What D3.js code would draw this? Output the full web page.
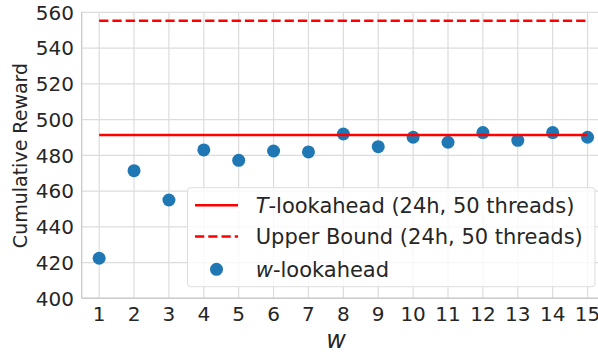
<!DOCTYPE html>
<html>
<head>
<meta charset="utf-8">
<script src="https://cdn.jsdelivr.net/npm/d3@7"></script>
<style>
  body { margin: 0; background: #fff; }
  svg { display: block; font-family: "DejaVu Sans", sans-serif; }
</style>
</head>
<body>
<div id="content"></div>
<script>
var width = 598, height = 354;

var wValues = [1, 2, 3, 4, 5, 6, 7, 8, 9, 10, 11, 12, 13, 14, 15];
var wReward = [422.4, 471.4, 455.0, 483.0, 477.2, 482.4, 481.9, 491.9, 484.8, 490.1, 487.3, 492.7, 488.4, 492.7, 490.1];
var tLookahead = 491.4;
var upperBound = 555.3;
var yTicks = [400, 420, 440, 460, 480, 500, 520, 540, 560];

var svg = d3.select('div#content').append('svg')
  .attr('width', width)
  .attr('height', height);

var x = d3.scaleLinear().domain([0.5, 15.5]).range([81.7, 605]);
var y = d3.scaleLinear().domain([400, 560]).range([298.3, 12.3]);

var grid = svg.append('g');
// vertical grid
grid.selectAll('line.vx')
  .data(wValues)
  .enter().append('line')
  .attr('x1', d => x(d)).attr('x2', d => x(d))
  .attr('y1', y(400)).attr('y2', y(560))
  .attr('stroke', '#dcdcdc').attr('stroke-width', 1.2);
// horizontal grid
grid.selectAll('line.hy')
  .data(yTicks)
  .enter().append('line')
  .attr('x1', x(0.5)).attr('x2', width)
  .attr('y1', d => y(d)).attr('y2', d => y(d))
  .attr('stroke', '#dcdcdc').attr('stroke-width', 1.2);

// spines
svg.append('line')
  .attr('x1', x(0.5)).attr('x2', x(0.5))
  .attr('y1', y(400)).attr('y2', y(560))
  .attr('stroke', '#cccccc').attr('stroke-width', 1.4);
svg.append('line')
  .attr('x1', x(0.5)).attr('x2', width)
  .attr('y1', y(400)).attr('y2', y(400))
  .attr('stroke', '#cccccc').attr('stroke-width', 1.4);

// tick labels
svg.append('g').selectAll('text')
  .data(yTicks)
  .enter().append('text')
  .attr('x', 74)
  .attr('y', d => y(d))
  .attr('dy', '0.36em')
  .attr('text-anchor', 'end')
  .attr('font-size', 20)
  .attr('fill', '#262626')
  .text(d => d);

svg.append('g').selectAll('text')
  .data(wValues)
  .enter().append('text')
  .attr('x', d => x(d))
  .attr('y', 321)
  .attr('text-anchor', 'middle')
  .attr('font-size', 20)
  .attr('fill', '#262626')
  .text(d => d);

// axis labels
svg.append('text')
  .attr('transform', 'translate(27,155.5) rotate(-90)')
  .attr('text-anchor', 'middle')
  .attr('font-size', 19)
  .attr('fill', '#262626')
  .text('Cumulative Reward');

svg.append('text')
  .attr('x', 336)
  .attr('y', 348)
  .attr('text-anchor', 'middle')
  .attr('font-size', 24)
  .attr('font-style', 'italic')
  .attr('fill', '#262626')
  .text('w');

// points
svg.append('g').selectAll('circle')
  .data(wValues)
  .enter().append('circle')
  .attr('cx', d => x(d))
  .attr('cy', (d, i) => y(wReward[i]))
  .attr('r', 6.5)
  .attr('fill', '#1f77b4');

// reference lines (drawn over the points)
svg.append('line')
  .attr('x1', x(1)).attr('x2', x(15))
  .attr('y1', y(tLookahead)).attr('y2', y(tLookahead))
  .attr('stroke', '#ff0000').attr('stroke-width', 2.5);
svg.append('line')
  .attr('x1', x(1)).attr('x2', x(15))
  .attr('y1', y(upperBound)).attr('y2', y(upperBound))
  .attr('stroke', '#ff0000').attr('stroke-width', 2.5)
  .attr('stroke-dasharray', '9.25,4');

// legend
var lg = svg.append('g');
lg.append('rect')
  .attr('x', 187.5).attr('y', 187.7)
  .attr('width', 407.5).attr('height', 99)
  .attr('rx', 3)
  .attr('fill', 'rgba(255,255,255,0.8)')
  .attr('stroke', '#dddddd').attr('stroke-width', 1);

var legendItems = [
  {type: 'solid', pre: 'T', rest: '-lookahead (24h, 50 threads)'},
  {type: 'dash', pre: '', rest: 'Upper Bound (24h, 50 threads)'},
  {type: 'dot', pre: 'w', rest: '-lookahead'}
];
var rowY = [205.3, 236.5, 269.3];
legendItems.forEach(function(item, i){
  var yy = rowY[i];
  if(item.type === 'dot'){
    lg.append('circle').attr('cx', 216.5).attr('cy', yy).attr('r', 6.5).attr('fill', '#1f77b4');
  }else{
    lg.append('line')
      .attr('x1', 195).attr('x2', 238)
      .attr('y1', yy).attr('y2', yy)
      .attr('stroke', '#ff0000').attr('stroke-width', 2.5)
      .attr('stroke-dasharray', item.type === 'dash' ? '9.25,4' : null);
  }
  var t = lg.append('text')
    .attr('x', 255.7).attr('y', yy)
    .attr('dy', '0.36em')
    .attr('font-size', 21)
    .attr('fill', '#262626');
  if(item.pre){
    t.append('tspan').attr('font-style', 'italic').text(item.pre);
  }
  t.append('tspan').text(item.rest);
});
</script>
</body>
</html>
